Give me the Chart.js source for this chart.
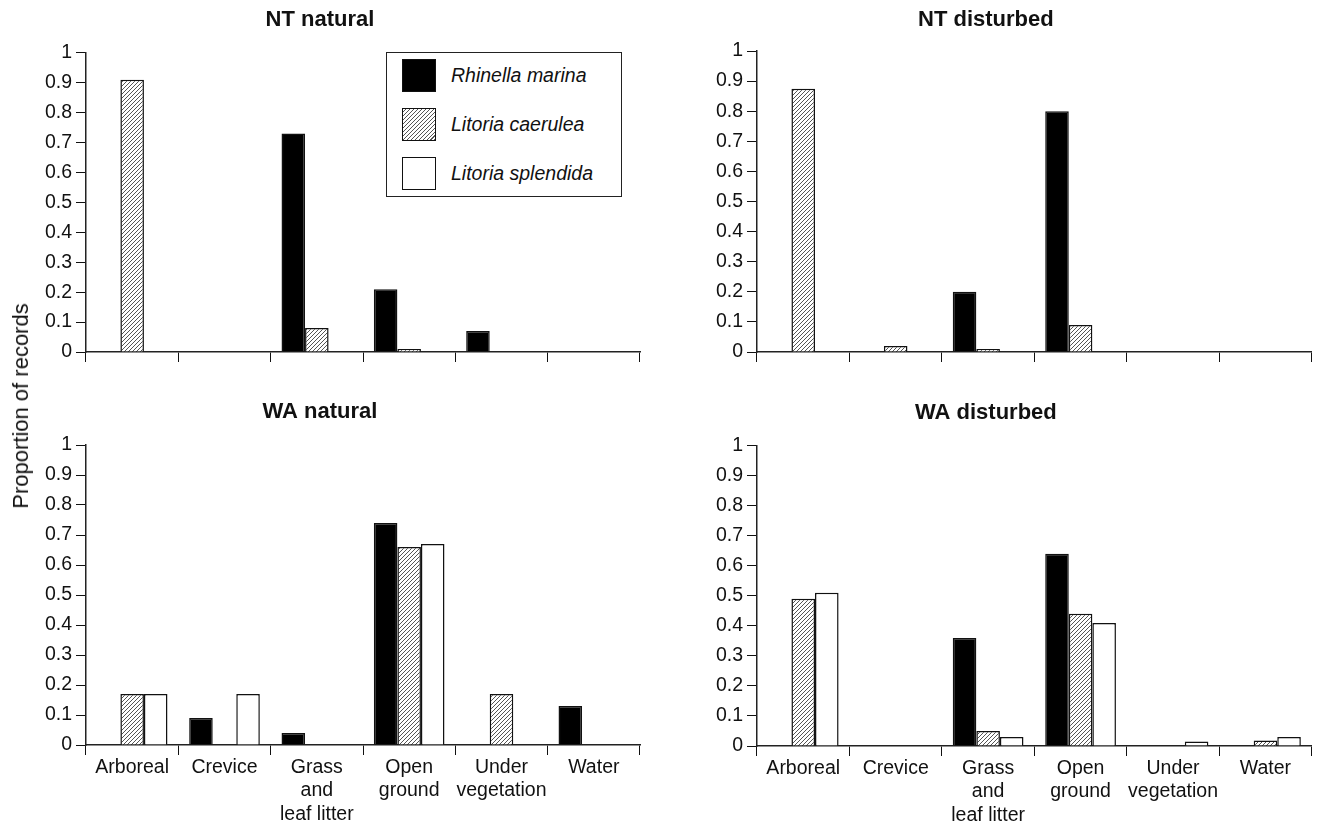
<!DOCTYPE html>
<html>
<head>
<meta charset="utf-8">
<script src="https://cdn.jsdelivr.net/npm/chart.js@4.4.0/dist/chart.umd.min.js"></script>
<style>
  body { margin: 0; background: #fff; font-family: 'Liberation Sans', Arial, sans-serif; }
  #page { position: relative; width: 1317px; height: 822px; overflow: hidden; }
  .panel { position: absolute; }
  #yTitle {
    position: absolute; left: 21px; top: 406px;
    transform: translate(-50%, -50%) rotate(-90deg);
    font-size: 22px; color: #111; white-space: nowrap;
  }
  #legend {
    position: absolute; left: 386px; top: 52px; width: 234px; height: 143px;
    border: 1.5px solid #222; background: #fff;
  }
  .legRow { position: absolute; left: 15px; height: 33px; display: flex; align-items: center; }
  .legRow .sw { width: 32px; height: 31px; border: 1.5px solid #111; margin-right: 15px; }
  .legRow span { font-style: italic; font-size: 19.5px; color: #111; }
</style>
</head>
<body>
<div id="page">
  <div class="panel" style="left:0;top:0;width:660px;height:380px"><canvas id="ntNatural"></canvas></div>
  <div class="panel" style="left:660px;top:0;width:657px;height:380px"><canvas id="ntDisturbed"></canvas></div>
  <div class="panel" style="left:0;top:380px;width:660px;height:442px"><canvas id="waNatural"></canvas></div>
  <div class="panel" style="left:660px;top:380px;width:657px;height:442px"><canvas id="waDisturbed"></canvas></div>
  <div id="yTitle">Proportion of records</div>
  <div id="legend"></div>
</div>
<script>
// habitat categories (x axis)
const habitats = ['Arboreal', 'Crevice', ['Grass', 'and', 'leaf litter'], ['Open', 'ground'], ['Under', 'vegetation'], 'Water'];
const species = ['Rhinella marina', 'Litoria caerulea', 'Litoria splendida'];
const yTickLabels = ['0', '0.1', '0.2', '0.3', '0.4', '0.5', '0.6', '0.7', '0.8', '0.9', '1'];

// NT natural
const ntNaturalRhinella  = [0, 0, 0.73, 0.21, 0.07, 0];
const ntNaturalCaerulea  = [0.91, 0, 0.08, 0.01, 0, 0];
const ntNaturalSplendida = [0, 0, 0, 0, 0, 0];
// NT disturbed
const ntDisturbedRhinella  = [0, 0, 0.2, 0.8, 0, 0];
const ntDisturbedCaerulea  = [0.875, 0.02, 0.01, 0.09, 0, 0];
const ntDisturbedSplendida = [0, 0, 0, 0, 0, 0];
// WA natural
const waNaturalRhinella  = [0, 0.09, 0.04, 0.74, 0, 0.13];
const waNaturalCaerulea  = [0.17, 0, 0, 0.66, 0.17, 0];
const waNaturalSplendida = [0.17, 0.17, 0, 0.67, 0, 0];
// WA disturbed
const waDisturbedRhinella  = [0, 0, 0.36, 0.64, 0, 0];
const waDisturbedCaerulea  = [0.49, 0, 0.05, 0.44, 0, 0.018];
const waDisturbedSplendida = [0.51, 0, 0.03, 0.41, 0.015, 0.03];

const FONT = "'Liberation Sans', Arial, sans-serif";
const INK = '#111';

function makeHatch() {
    const s = 4;
    const c = document.createElement('canvas');
    c.width = s; c.height = s;
    const g = c.getContext('2d');
    g.fillStyle = '#fff';
    g.fillRect(0, 0, s, s);
    g.strokeStyle = '#555';
    g.lineWidth = 1;
    g.beginPath();
    g.moveTo(0, s); g.lineTo(s, 0);
    g.moveTo(-1, 1); g.lineTo(1, -1);
    g.moveTo(s - 1, s + 1); g.lineTo(s + 1, s - 1);
    g.stroke();
    return g.createPattern(c, 'repeat');
}
const hatch = makeHatch();
const fills = ['#000', hatch, '#fff'];

function buildChart(id, title, series, opt) {
    return new Chart(document.getElementById(id), {
        type: 'bar',
        data: {
            labels: habitats,
            datasets: series.map((d, i) => ({
                label: species[i],
                data: d,
                backgroundColor: fills[i],
                borderColor: INK,
                borderWidth: 1.5,
                barPercentage: 1,
                categoryPercentage: 0.765
            }))
        },
        options: {
            responsive: true,
            maintainAspectRatio: false,
            animation: false,
            layout: { padding: { left: 0, right: opt.padRight, top: 0, bottom: 0 } },
            plugins: {
                legend: { display: false },
                tooltip: { enabled: false },
                title: {
                    display: true,
                    text: title,
                    color: INK,
                    font: { family: FONT, size: 22, weight: 'bold' },
                    padding: { top: opt.titleTop, bottom: opt.titleBottom }
                }
            },
            scales: {
                x: {
                    grid: { offset: true, drawOnChartArea: false, drawTicks: true, tickLength: 10, color: INK, lineWidth: 1 },
                    border: { display: true, color: '#222', width: 1.5 },
                    ticks: { display: opt.labels, color: INK, padding: 1, maxRotation: 0, autoSkip: false,
                             font: { family: FONT, size: 19.5, lineHeight: 1.2 } },
                    afterFit: s => { s.height = opt.xHeight; }
                },
                y: {
                    min: 0, max: 1,
                    ticks: { stepSize: 0.1, color: INK, padding: 4,
                             font: { family: FONT, size: 19.5 },
                             callback: (v, i) => yTickLabels[i] },
                    grid: { drawOnChartArea: false, drawTicks: true, tickLength: 10, color: INK, lineWidth: 1 },
                    border: { display: true, color: '#222', width: 1.5 },
                    afterFit: s => { s.width = opt.yWidth; }
                }
            }
        }
    });
}

buildChart('ntNatural', 'NT natural', [ntNaturalRhinella, ntNaturalCaerulea, ntNaturalSplendida],
    { padRight: 20, titleTop: 7, titleBottom: 19.3, xHeight: 28, yWidth: 86, labels: false });
buildChart('ntDisturbed', 'NT disturbed', [ntDisturbedRhinella, ntDisturbedCaerulea, ntDisturbedSplendida],
    { padRight: 5.3, titleTop: 7, titleBottom: 17.6, xHeight: 28, yWidth: 97, labels: false });
buildChart('waNatural', 'WA natural', [waNaturalRhinella, waNaturalCaerulea, waNaturalSplendida],
    { padRight: 20, titleTop: 19, titleBottom: 19.6, xHeight: 77, yWidth: 86, labels: true });
buildChart('waDisturbed', 'WA disturbed', [waDisturbedRhinella, waDisturbedCaerulea, waDisturbedSplendida],
    { padRight: 5.3, titleTop: 19.5, titleBottom: 19.8, xHeight: 76, yWidth: 97, labels: true });

// legend box inside the NT natural panel
const legend = document.getElementById('legend');
const swatchCss = [
    'background:#000',
    'background:repeating-linear-gradient(135deg,#fff 0 1.8px,#555 1.8px 2.8px)',
    'background:#fff'
];
species.forEach((name, i) => {
    const row = document.createElement('div');
    row.className = 'legRow';
    row.style.top = (6 + i * 49) + 'px';
    row.innerHTML = `<div class="sw" style="${swatchCss[i]}"></div><span>${name}</span>`;
    legend.appendChild(row);
});
</script>
</body>
</html>
